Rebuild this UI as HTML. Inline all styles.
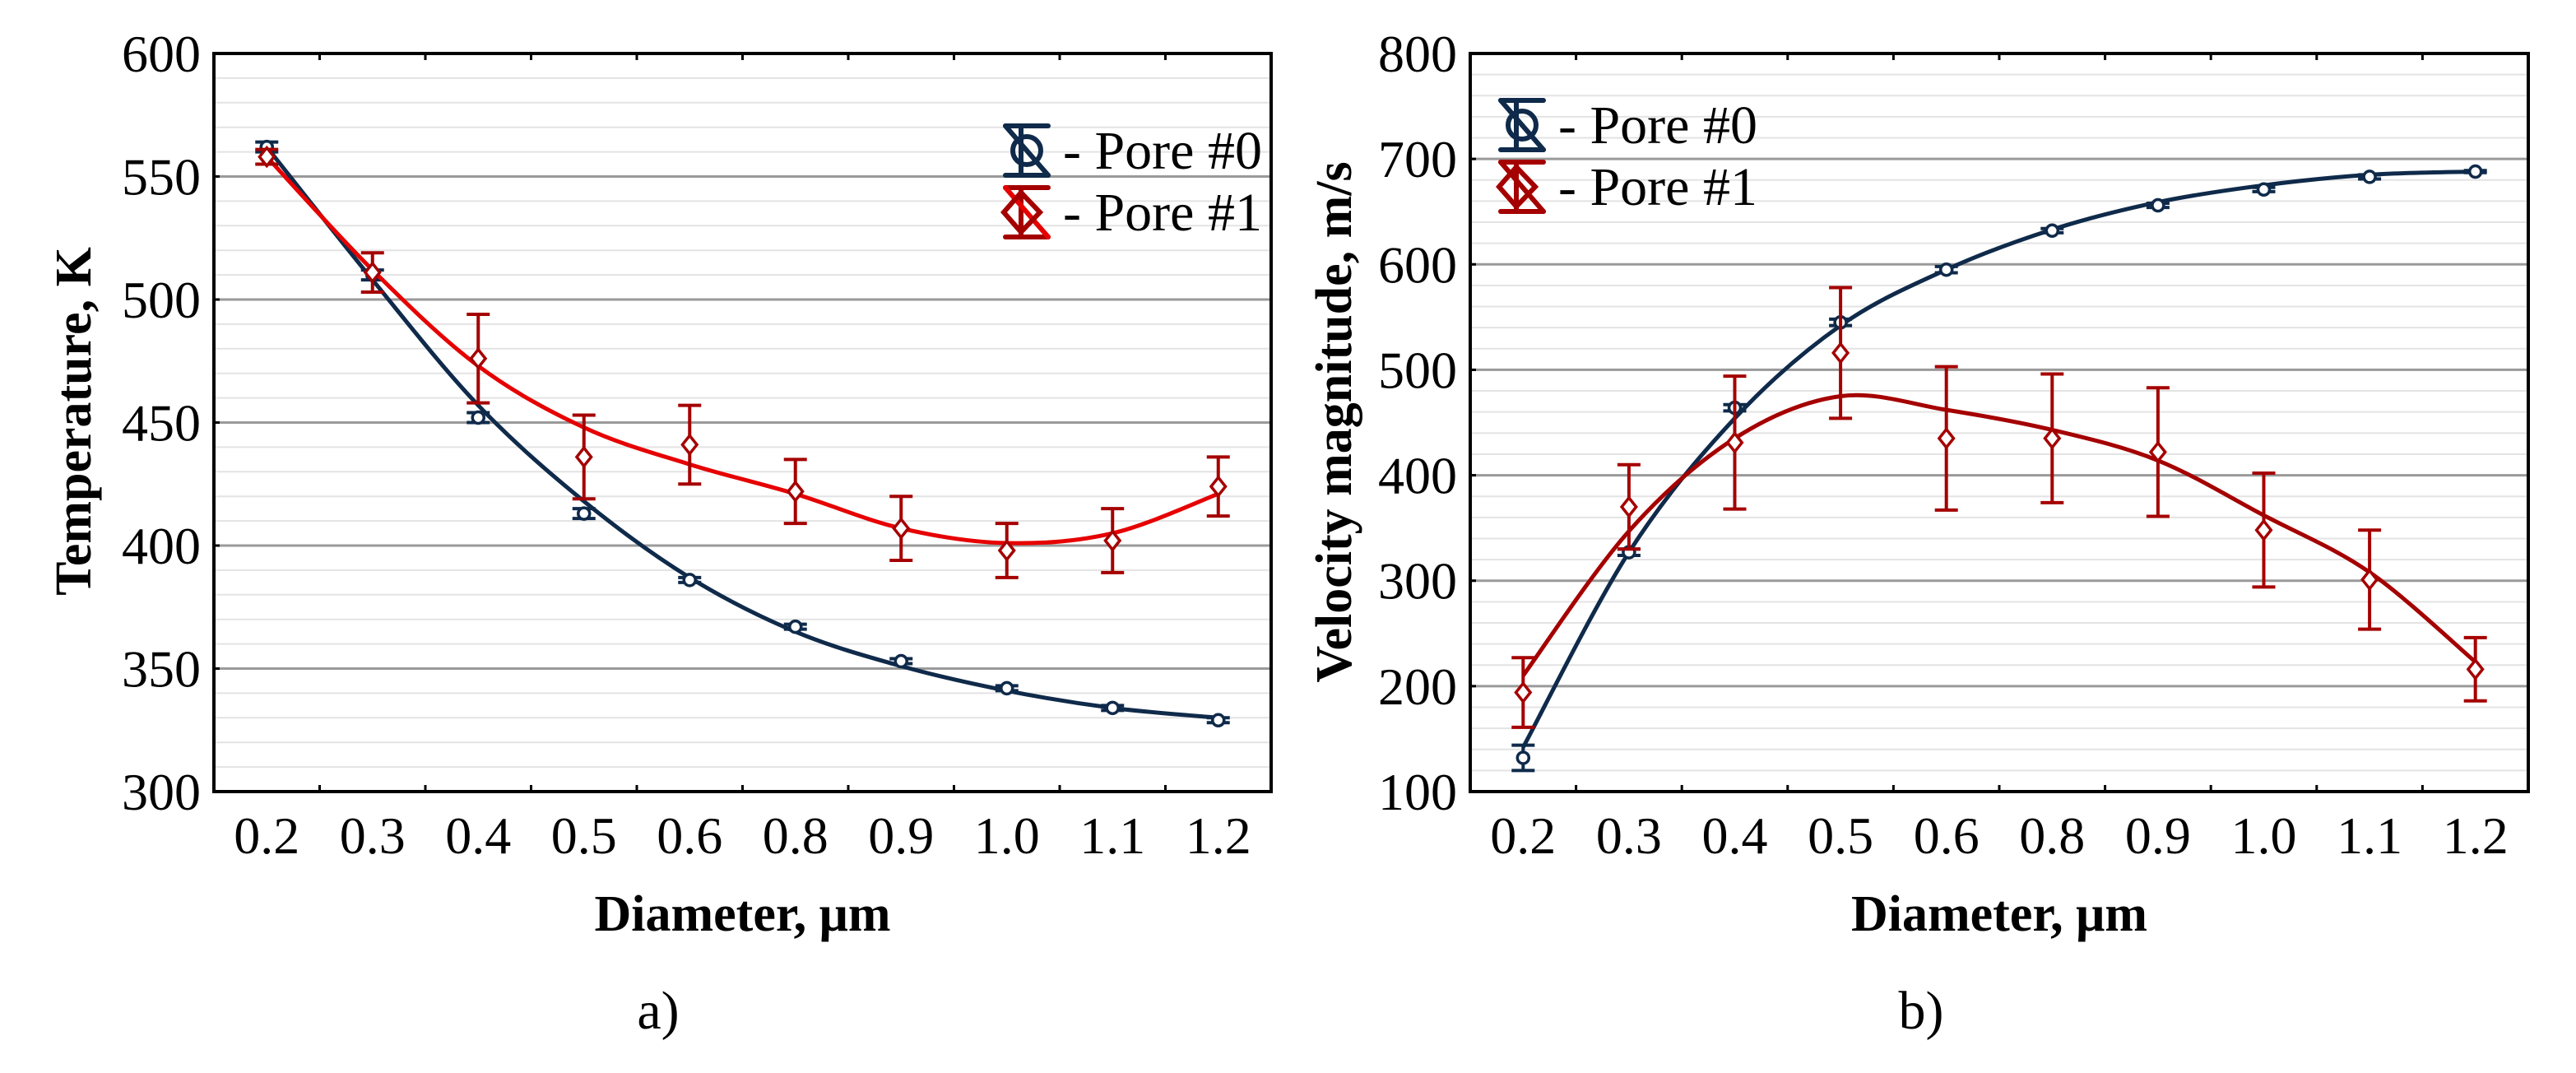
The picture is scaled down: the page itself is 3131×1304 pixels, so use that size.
<!DOCTYPE html>
<html><head><meta charset="utf-8">
<style>
html,body{margin:0;padding:0;background:#fff;}
svg{display:block;font-family:"Liberation Serif","DejaVu Serif",serif;}
</style></head>
<body>
<svg id="fig" width="3131" height="1304" viewBox="0 0 3131 1304" xmlns="http://www.w3.org/2000/svg">
</svg>
<script>
// ---- shared data ----
const categories = ["0.2","0.3","0.4","0.5","0.6","0.8","0.9","1.0","1.1","1.2"];

// Chart a) Temperature
const tempTicks = [300,350,400,450,500,550,600];
const tempPore0 = [562,510,452,413,386,367,353,342,334,329];
const tempPore0Err = [2,2,2,2,1,1,1,1,1,1];
const tempPore1 = [558,511,476,436,441,422,407,398,402,424];
const tempPore1Err = [3,8,18,17,16,13,13,11,13,12];
const tempFit0 = [562,508,457,418,387,365,351,341,334,330];
const tempFit1 = [558,512,473,448,433,421,407,401,405,421];

// Chart b) Velocity
const velTicks = [100,200,300,400,500,600,700,800];
const velPore0 = [132,327,464,545,595,632,656,671,683,688];
const velPore0Err = [12,3,3,3,3,2,2,2,2,1];
const velPore1 = [194,370,431,516,435,435,422,348,301,216];
const velPore1Err = [33,40,63,62,68,61,61,54,47,30];
const velFit0 = [142,327,454,542,595,633,659,675,685,688];
const velFit1 = [210,347,435,475,462,443,414,362,308,223];

const NS = "http://www.w3.org/2000/svg";
const svg = document.getElementById('fig');
function mk(tag, attrs, parent){
  const e = document.createElementNS(NS, tag);
  for (const k in attrs) e.setAttribute(k, attrs[k]);
  (parent||svg).appendChild(e);
  return e;
}
function smoothPath(pts){
  let d = "M"+pts[0][0]+","+pts[0][1];
  for (let i=0;i<pts.length-1;i++){
    const p0=pts[Math.max(i-1,0)], p1=pts[i], p2=pts[i+1], p3=pts[Math.min(i+2,pts.length-1)];
    const c1x=p1[0]+(p2[0]-p0[0])/6, c1y=p1[1]+(p2[1]-p0[1])/6;
    const c2x=p2[0]-(p3[0]-p1[0])/6, c2y=p2[1]-(p3[1]-p1[1])/6;
    d += " C"+c1x+","+c1y+" "+c2x+","+c2y+" "+p2[0]+","+p2[1];
  }
  return d;
}

function chart(cfg){
  const g = mk('g', {});
  
  
  const L=cfg.x0, R=cfg.x1, T=cfg.y0, B=cfg.y1;
  const band=(R-L)/categories.length;
  const xs = i => L + band*(i+0.5);
  const ys = v => B - (v-cfg.min)/(cfg.max-cfg.min)*(B-T);
  // minor grid
  for (let v=cfg.min; v<=cfg.max; v+=cfg.minor){
    const ln = mk('line',{x1:L,x2:R,y1:ys(v),y2:ys(v),stroke:'#e3e3e3','stroke-width':2},g);
    
    
  }
  cfg.ticks.forEach(v=>{
    if (v>cfg.min && v<cfg.max){
      const ln = mk('line',{x1:L,x2:R,y1:ys(v),y2:ys(v),stroke:'#9a9a9a','stroke-width':3},g);
      
      
    }
    const tk = mk('line',{x1:L,x2:L+7,y1:ys(v),y2:ys(v),stroke:'#000','stroke-width':3},g);
    
    
    const t = mk('text',{x:L-16,y:ys(v)+22,'text-anchor':'end','font-size':64},g);
    t.textContent = v;
    
    
  });
  // x ticks at band boundaries
  for (let i=1;i<categories.length;i++){
    const x=L+band*i;
    const a=mk('line',{x1:x,x2:x,y1:T,y2:T+8,stroke:'#000','stroke-width':3},g);
    
    
    const b=mk('line',{x1:x,x2:x,y1:B,y2:B-8,stroke:'#000','stroke-width':3},g);
    
    
  }
  categories.forEach((c,i)=>{
    const t = mk('text',{x:xs(i),y:1037,'text-anchor':'middle','font-size':64},g);
    t.textContent=c;
    
    
  });
  const frame = mk('rect',{x:L,y:T,width:R-L,height:B-T,fill:'none',stroke:'#000','stroke-width':4},g);
  
  

  // series
  cfg.series.forEach(s=>{
    const sg = mk('g',{},g);
    
    
    const pts = s.fit.map((v,i)=>[xs(i),ys(v)]);
    const p = mk('path',{d:smoothPath(pts),fill:'none',stroke:s.lineColor,'stroke-width':5},sg);
    
    
    s.vals.forEach((v,i)=>{
      const x=xs(i), e=s.err[i];
      const eg = mk('g',{stroke:s.color,'stroke-width':4,fill:'none'},sg);
      
      
      mk('line',{x1:x,x2:x,y1:ys(v+e),y2:ys(v-e)},eg);
      mk('line',{x1:x-14,x2:x+14,y1:ys(v+e),y2:ys(v+e)},eg);
      mk('line',{x1:x-14,x2:x+14,y1:ys(v-e),y2:ys(v-e)},eg);
      let m;
      if (s.marker==='circle'){
        m = mk('circle',{cx:x,cy:ys(v),r:7,fill:'#fff',stroke:s.color,'stroke-width':3.5},sg);
      } else {
        const y=ys(v), h=11;
        m = mk('polygon',{points:`${x},${y-h} ${x+h*0.8},${y} ${x},${y+h} ${x-h*0.8},${y}`,fill:'#fff',stroke:s.color,'stroke-width':3.5},sg);
      }
      
      
    });
  });

  // legend
  const lg = mk('g',{},g);
  
  
  cfg.series.forEach((s,k)=>{
    const cy = cfg.legY + k*75, x=cfg.legX;
    const eg = mk('g',{stroke:s.color,'stroke-width':6,fill:'none','stroke-linecap':'round'},lg);
    
    
    mk('line',{x1:x-26,x2:x+26,y1:cy-30,y2:cy-30},eg);
    mk('line',{x1:x-26,x2:x+26,y1:cy+30,y2:cy+30},eg);
    mk('line',{x1:x-7,x2:x-7,y1:cy-30,y2:cy+30},eg);
    mk('line',{x1:x-26,x2:x+26,y1:cy-30,y2:cy+30,stroke:s.lineColor},eg);
    if (s.marker==='circle') mk('circle',{cx:x,cy:cy,r:17},eg);
    else mk('polygon',{points:`${x-7},${cy-24} ${x+16},${cy} ${x-7},${cy+24} ${x-28},${cy}`},eg);
    const t = mk('text',{x:x+44,y:cy+22,'font-size':66},lg);
    t.textContent = '- '+s.label;
    
    
  });

  // titles
  const xt = mk('text',{x:(L+R)/2,y:1131,'text-anchor':'middle','font-size':62,'font-weight':'bold'},g);
  xt.textContent='Diameter, μm';
  
  
  const yt = mk('text',{x:0,y:0,'text-anchor':'middle','font-size':62,'font-weight':'bold',transform:`translate(${cfg.ytX},${cfg.ytY}) rotate(-90)`},g);
  yt.textContent=cfg.yTitle;
  
  
  const pl = mk('text',{x:cfg.panelX,y:1250,'text-anchor':'middle','font-size':66},g);
  pl.textContent=cfg.panel;
  
  
}

chart({name:'temperature-chart',x0:260,x1:1545,y0:65,y1:962,min:300,max:600,minor:10,ticks:tempTicks,
  yTitle:'Temperature, K',ytX:110,ytY:512,panel:'a)',panelX:800,legX:1248,legY:183,
  series:[
    {name:'pore-0-series',label:'Pore #0',vals:tempPore0,err:tempPore0Err,fit:tempFit0,color:'#0f2a4a',lineColor:'#0f2a4a',marker:'circle'},
    {name:'pore-1-series',label:'Pore #1',vals:tempPore1,err:tempPore1Err,fit:tempFit1,color:'#a50000',lineColor:'#e60000',marker:'diamond'}
  ]});
chart({name:'velocity-chart',x0:1787,x1:3073,y0:65,y1:962,min:100,max:800,minor:20,ticks:velTicks,
  yTitle:'Velocity magnitude, m/s',ytX:1642,ytY:513,panel:'b)',panelX:2335,legX:1850,legY:152,
  series:[
    {name:'pore-0-series',label:'Pore #0',vals:velPore0,err:velPore0Err,fit:velFit0,color:'#0f2a4a',lineColor:'#0f2a4a',marker:'circle'},
    {name:'pore-1-series',label:'Pore #1',vals:velPore1,err:velPore1Err,fit:velFit1,color:'#a50000',lineColor:'#a50000',marker:'diamond'}
  ]});
</script>
</body></html>
